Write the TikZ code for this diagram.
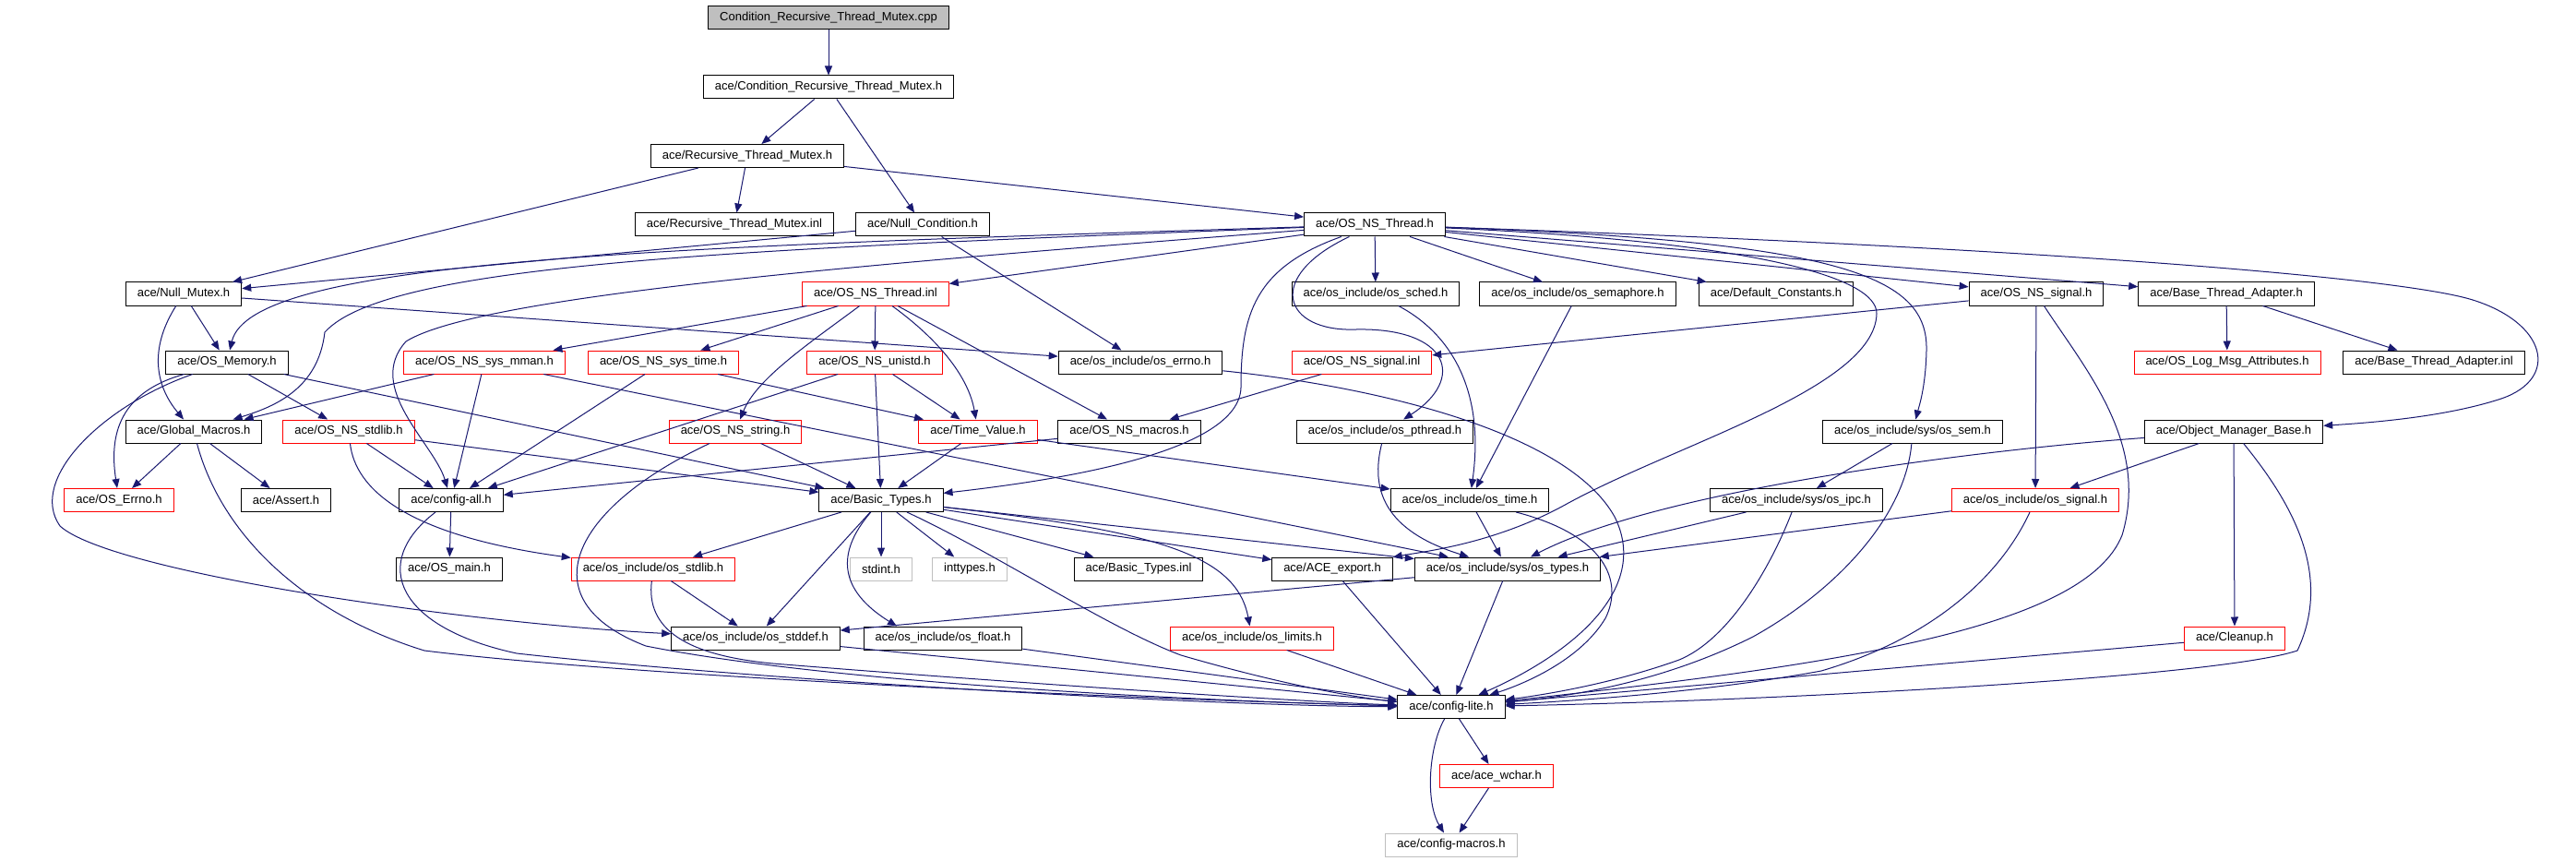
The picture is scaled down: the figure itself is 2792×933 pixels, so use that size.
\documentclass[tikz,border=0pt]{standalone}
\usepackage{fontspec}
\setmainfont{Liberation Sans}
\usetikzlibrary{arrows.meta}
\definecolor{edgeblue}{HTML}{191970}
\definecolor{boxred}{HTML}{FF0000}
\definecolor{boxgray}{HTML}{BFBFBF}
\tikzset{
  file/.style={draw=black, fill=white, line width=1pt, minimum height=25pt, inner xsep=12.5pt, inner ysep=0pt, font=\fontsize{13}{15}\selectfont, anchor=center},
  redfile/.style={file, draw=boxred},
  grayfile/.style={file, draw=boxgray},
  rootfile/.style={file, fill=boxgray},
  dep/.style={draw=edgeblue, line width=1pt, -{Triangle[length=10pt,width=8pt]}}
}
\begin{document}
\begin{tikzpicture}[x=1pt,y=-1pt]
\fill[white] (0,0) rectangle (2792,933);
\useasboundingbox (0,0) rectangle (2792,933);
% row 0-3
\node[rootfile] (cpp) at (898,19.5) {Condition\_Recursive\_Thread\_Mutex.cpp};
\node[file] (cond) at (898,94.5) {ace/Condition\_Recursive\_Thread\_Mutex.h};
\node[file] (rtm) at (810,169) {ace/Recursive\_Thread\_Mutex.h};
\node[file] (rtminl) at (796,243.5) {ace/Recursive\_Thread\_Mutex.inl};
\node[file] (nullcond) at (1000,243.5) {ace/Null\_Condition.h};
\node[file] (nsthread) at (1490,243.5) {ace/OS\_NS\_Thread.h};
% row 4
\node[file] (nullmutex) at (199,318.5) {ace/Null\_Mutex.h};
\node[redfile] (nsthreadinl) at (949,318.5) {ace/OS\_NS\_Thread.inl};
\node[file] (sched) at (1491,318.5) {ace/os\_include/os\_sched.h};
\node[file] (semaphore) at (1710,318.5) {ace/os\_include/os\_semaphore.h};
\node[file] (defconst) at (1925,318.5) {ace/Default\_Constants.h};
\node[file] (nssignal) at (2207,318.5) {ace/OS\_NS\_signal.h};
\node[file] (bta) at (2413,318.5) {ace/Base\_Thread\_Adapter.h};
% row 5
\node[file] (osmemory) at (246,392.5) {ace/OS\_Memory.h};
\node[redfile] (mman) at (525,392.5) {ace/OS\_NS\_sys\_mman.h};
\node[redfile] (systime) at (719,392.5) {ace/OS\_NS\_sys\_time.h};
\node[redfile] (unistd) at (948,392.5) {ace/OS\_NS\_unistd.h};
\node[file] (errno) at (1236,392.5) {ace/os\_include/os\_errno.h};
\node[redfile] (signalinl) at (1476,392.5) {ace/OS\_NS\_signal.inl};
\node[redfile] (logmsg) at (2414,392.5) {ace/OS\_Log\_Msg\_Attributes.h};
\node[file] (btainl) at (2638,392.5) {ace/Base\_Thread\_Adapter.inl};
% row 6
\node[file] (globalmacros) at (210,467.5) {ace/Global\_Macros.h};
\node[redfile] (nsstdlib) at (378,467.5) {ace/OS\_NS\_stdlib.h};
\node[redfile] (nsstring) at (797,467.5) {ace/OS\_NS\_string.h};
\node[redfile] (timevalue) at (1060,467.5) {ace/Time\_Value.h};
\node[file] (nsmacros) at (1224,467.5) {ace/OS\_NS\_macros.h};
\node[file] (pthread) at (1501,467.5) {ace/os\_include/os\_pthread.h};
\node[file] (sem) at (2073,467.5) {ace/os\_include/sys/os\_sem.h};
\node[file] (omb) at (2421,467.5) {ace/Object\_Manager\_Base.h};
% row 7
\node[redfile] (oserrno) at (129,542) {ace/OS\_Errno.h};
\node[file] (assert) at (310,542) {ace/Assert.h};
\node[file] (configall) at (489,542) {ace/config-all.h};
\node[file] (basictypes) at (955,542) {ace/Basic\_Types.h};
\node[file] (ostime) at (1593,542) {ace/os\_include/os\_time.h};
\node[file] (ipc) at (1947,542) {ace/os\_include/sys/os\_ipc.h};
\node[redfile] (ossignal) at (2206,542) {ace/os\_include/os\_signal.h};
% row 8
\node[file] (osmain) at (487,616.5) {ace/OS\_main.h};
\node[redfile] (osstdlib) at (708,616.5) {ace/os\_include/os\_stdlib.h};
\node[grayfile] (stdint) at (955,616.5) {stdint.h};
\node[grayfile] (inttypes) at (1051,616.5) {inttypes.h};
\node[file] (btinl) at (1234,616.5) {ace/Basic\_Types.inl};
\node[file] (aceexport) at (1444,616.5) {ace/ACE\_export.h};
\node[file] (ostypes) at (1634,616.5) {ace/os\_include/sys/os\_types.h};
% row 9
\node[file] (stddef) at (819,691.5) {ace/os\_include/os\_stddef.h};
\node[file] (osfloat) at (1022,691.5) {ace/os\_include/os\_float.h};
\node[redfile] (limits) at (1357,691.5) {ace/os\_include/os\_limits.h};
\node[redfile] (cleanup) at (2422,691.5) {ace/Cleanup.h};
% rows 10-12
\node[file] (configlite) at (1573,766) {ace/config-lite.h};
\node[redfile] (wchar) at (1622,841) {ace/ace\_wchar.h};
\node[grayfile] (macros) at (1573,915.5) {ace/config-macros.h};

% straight edges
\foreach \a/\b in {cpp/cond, cond/rtm, cond/nullcond, rtm/rtminl, rtm/nullmutex, rtm/nsthread,
  nullcond/nullmutex, nullcond/errno, nullmutex/osmemory, nullmutex/errno,
  nsthread/nsthreadinl, nsthread/sched, nsthread/semaphore, nsthread/defconst, nsthread/nssignal, nsthread/bta,
  osmemory/nsstdlib, osmemory/basictypes, globalmacros/oserrno, globalmacros/assert,
  nsstdlib/configall, nsstdlib/basictypes, mman/globalmacros, mman/configall, mman/ostypes,
  systime/configall, systime/timevalue, unistd/configall, unistd/basictypes, unistd/timevalue,
  nsthreadinl/mman, nsthreadinl/systime, nsthreadinl/unistd, nsthreadinl/nsmacros,
  nsstring/basictypes, timevalue/basictypes, timevalue/ostime, nsmacros/configall,
  signalinl/nsmacros, nssignal/signalinl, nssignal/ossignal, bta/logmsg, bta/btainl,
  omb/ossignal, omb/cleanup, sem/ipc, ipc/ostypes, ossignal/ostypes, cleanup/configlite,
  semaphore/ostime, ostime/ostypes, configall/osmain, basictypes/osstdlib, basictypes/stddef,
  basictypes/stdint, basictypes/inttypes, basictypes/btinl, basictypes/aceexport, basictypes/ostypes,
  osstdlib/stddef, ostypes/stddef, aceexport/configlite, ostypes/configlite, stddef/configlite,
  osfloat/configlite, limits/configlite, configlite/wchar, wchar/macros}
  \draw[dep] (\a) -- (\b);

% curved edges
\draw[dep] (nsthread) .. controls (700,268) and (272,282) .. (osmemory);
\draw[dep] (nsthread) .. controls (800,270) and (420,285) .. (352,360) .. controls (345,420) and (300,440) .. (globalmacros);
\draw[dep] (nsthread) .. controls (950,285) and (520,320) .. (440,370) .. controls (395,420) and (470,480) .. (configall);
\draw[dep] (nsthread) .. controls (1360,290) and (1345,340) .. (1345,420) .. controls (1343,490) and (1150,520) .. (basictypes);
\draw[dep] (nsthread) .. controls (1370,300) and (1390,360) .. (1470,357) .. controls (1570,355) and (1590,410) .. (pthread);
\draw[dep] (nsthread) .. controls (2000,262) and (2090,300) .. (2088,380) .. controls (2087,420) and (2080,440) .. (sem);
\draw[dep] (nsthread) .. controls (1900,262) and (2035,300) .. (2034,340) .. controls (2032,420) and (1820,480) .. (1700,545) .. controls (1620,590) and (1540,598) .. (aceexport);
\draw[dep] (nsthread) .. controls (2200,268) and (2600,300) .. (2680,325) .. controls (2760,350) and (2775,410) .. (2711,432) .. controls (2650,452) and (2570,458) .. (omb);
\draw[dep] (errno) .. controls (1500,420) and (1700,470) .. (1750,560) .. controls (1790,640) and (1700,710) .. (configlite);
\draw[dep] (nssignal) .. controls (2260,400) and (2330,480) .. (2300,580) .. controls (2260,680) and (2000,720) .. (configlite);
\draw[dep] (sem) .. controls (2065,560) and (1990,640) .. (1900,690) .. controls (1800,740) and (1700,755) .. (configlite);
\draw[dep] (ipc) .. controls (1925,600) and (1880,690) .. (1820,715) .. controls (1750,740) and (1680,752) .. (configlite);
\draw[dep] (ossignal) .. controls (2170,620) and (2100,690) .. (1974,727) .. controls (1850,750) and (1700,760) .. (configlite);
\draw[dep] (omb) .. controls (2480,540) and (2530,620) .. (2490,705) .. controls (2400,735) and (1900,760) .. (configlite);
\draw[dep] (ostime) .. controls (1740,580) and (1760,630) .. (1740,670) .. controls (1710,720) and (1640,745) .. (configlite);
\draw[dep] (globalmacros) .. controls (240,580) and (330,665) .. (460,705) .. controls (700,735) and (1300,760) .. (configlite);
\draw[dep] (configall) .. controls (400,610) and (430,680) .. (560,708) .. controls (800,735) and (1300,765) .. (configlite);
\draw[dep] (osmemory) .. controls (110,440) and (30,520) .. (65,570) .. controls (120,620) and (500,675) .. (stddef);
\draw[dep] (osmemory) .. controls (130,425) and (118,470) .. (oserrno);
\draw[dep] (nullmutex) .. controls (160,380) and (170,420) .. (globalmacros);
\draw[dep] (nsstdlib) .. controls (385,530) and (440,580) .. (osstdlib);
\draw[dep] (nsstring) .. controls (620,550) and (570,650) .. (700,700) .. controls (900,740) and (1300,760) .. (configlite);
\draw[dep] (osstdlib) .. controls (700,680) and (740,712) .. (850,720) .. controls (1100,740) and (1400,760) .. (configlite);
\draw[dep] (basictypes) .. controls (1080,600) and (1200,680) .. (1280,710) .. controls (1400,745) and (1480,757) .. (configlite);
\draw[dep] (basictypes) .. controls (905,600) and (910,640) .. ([xshift=-50pt]osfloat.north);
\draw[dep] (basictypes) .. controls (1250,575) and (1340,600) .. (limits);
\draw[dep] (nsthreadinl) .. controls (880,370) and (820,410) .. (nsstring);
\draw[dep] (nsthreadinl) .. controls (1020,370) and (1050,410) .. (timevalue);
\draw[dep] (pthread) .. controls (1485,530) and (1500,575) .. (ostypes);
\draw[dep] (sched) .. controls (1570,360) and (1610,420) .. (ostime);
\draw[dep] (omb) .. controls (2150,487) and (1800,530) .. (ostypes);
\draw[dep] (configlite) .. controls (1548,810) and (1545,870) .. (macros);
\end{tikzpicture}
\end{document}
